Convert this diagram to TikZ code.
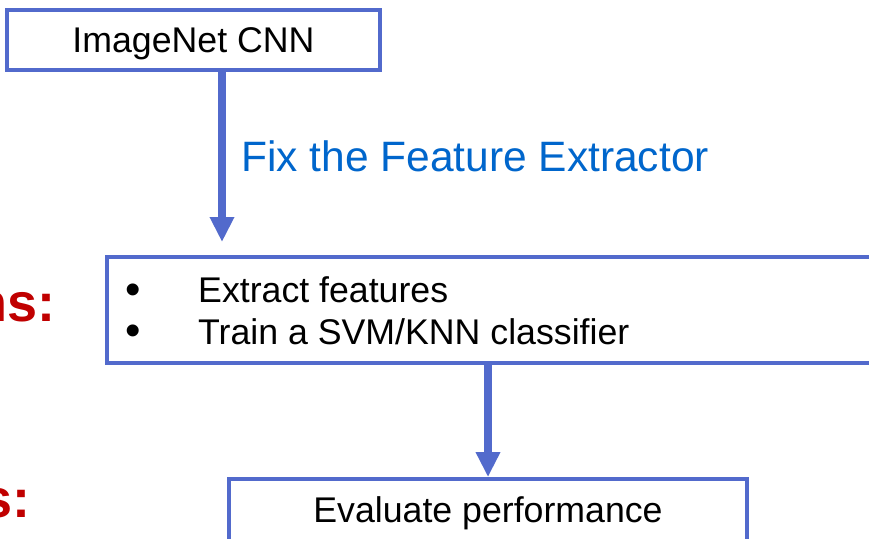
\documentclass[tikz,border=0pt]{standalone}
\usepackage{fontspec}
\setmainfont{Liberation Sans}
\usetikzlibrary{arrows.meta}
\definecolor{boxblue}{RGB}{82,106,204}
\definecolor{txtblue}{RGB}{0,102,204}
\definecolor{darkred}{RGB}{192,0,0}
\tikzset{
  flowbox/.style={draw=boxblue, line width=3.8pt, rectangle, inner sep=0pt, fill=white},
  flowarrow/.style={draw=boxblue, line width=8pt, -{Triangle[length=25pt,width=23pt]}},
  bodytext/.style={inner sep=0pt, font=\fontsize{35.7pt}{42pt}\selectfont},
  bulletmark/.style={inner sep=0pt, anchor=base, font=\fontsize{44pt}{44pt}\selectfont},
  sidetext/.style={inner sep=0pt, text=darkred, font=\fontsize{54pt}{60pt}\selectfont\bfseries, anchor=base east},
  stepnote/.style={inner sep=0pt, text=txtblue, font=\fontsize{42.5pt}{48pt}\selectfont, anchor=base west}
}
\begin{document}
\begin{tikzpicture}[x=1pt,y=-1pt]
\useasboundingbox (0,0) rectangle (869,538);
\clip (0,0) rectangle (869,538);
\fill[white] (0,0) rectangle (869,538);

% boxes
\node[flowbox, minimum width=373pt, minimum height=60pt, bodytext, text height=25.5pt, text depth=0pt] (top) at (193.5,40) {ImageNet CNN};
\node[flowbox, minimum width=798pt, minimum height=106pt] (mid) at (506,310) {};
\node[flowbox, minimum width=518pt, minimum height=121pt] (bot) at (488,539.5) {};

% texts inside boxes
\node[bulletmark] (b1) at (133,304) {•};
\node[bulletmark] (b2) at (133,345) {•};
\node[bodytext, anchor=base west] (l1) at (198,302) {Extract features};
\node[bodytext, anchor=base west] (l2) at (198,344) {Train a SVM/KNN classifier};
\node[bodytext, anchor=base] (evaltxt) at (488,522) {Evaluate performance};

% side labels (cut off at left, as in the reference)
\node[sidetext] (side1) at (56,321) {ns:};
\node[sidetext] (side2) at (31,517) {s:};

% arrows
\coordinate (tip1) at (222,242);
\draw[flowarrow] (top.south -| tip1) -- (tip1);
\node[stepnote] (fix) at (241,171) {Fix the Feature Extractor};
\draw[flowarrow] (mid.south -| bot.north) -- (bot.north);
\end{tikzpicture}
\end{document}
